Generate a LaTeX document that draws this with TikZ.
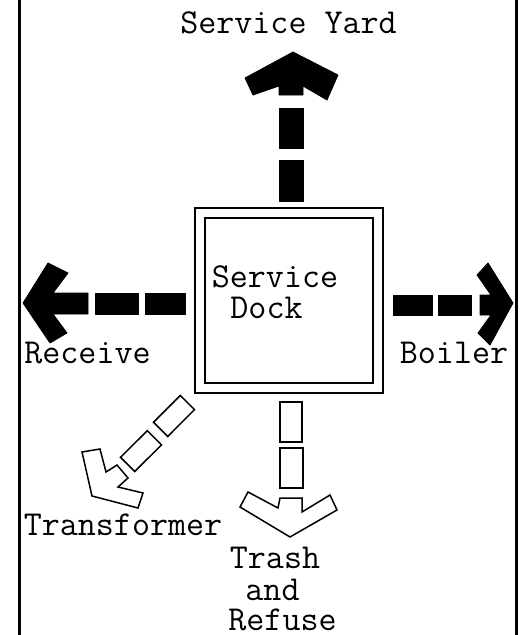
\documentclass[tikz,border=0pt]{standalone}
\usepackage{fontspec}
\begin{document}
\begin{tikzpicture}[x=1pt,y=-1pt,
  lbl/.style={font=\ttfamily\fontsize{35}{40}\selectfont, inner sep=0pt, anchor=base},
  solid/.style={fill=black, draw=black, line width=0.8pt, line join=round},
  openarr/.style={draw=black, line width=1.5pt, line join=miter, fill=white},
  frameline/.style={line width=3pt},
  dockbox/.style={draw, line width=2pt, inner sep=0pt}]
\useasboundingbox (0,0) rectangle (524,635);
% frame
\coordinate (fl1) at (19,-5); \coordinate (fl2) at (19,640);
\coordinate (fr1) at (516,-5); \coordinate (fr2) at (516,640);
\draw[frameline] (fl1) -- (fl2);
\draw[frameline] (fr1) -- (fr2);
% dock
\node[dockbox, minimum width=188pt, minimum height=185pt] (dock) at (289,300.5) {};
\node[dockbox, line width=1.5pt, minimum width=168pt, minimum height=165pt] (dockin) at (dock.center) {};
\node[lbl] (t1) at (275,287) {Service};
\node[lbl] (t2) at (266.5,318) {Dock};
% up arrow
\draw[solid] (293,52) -- (338,75) -- (327,100) -- (303,86) -- (303,95) -- (279,95) -- (279,86) -- (253,95) -- (245,78) -- cycle;
\draw[solid] (279,108) rectangle (303,148);
\draw[solid] (279,160) rectangle (303,201);
\node[lbl] (yard) at (288.5,33) {Service Yard};
% left arrow
\draw[solid] (23,303) -- (48,263) -- (68,273) -- (53,293) -- (88,293) -- (88,314) -- (53,314) -- (67,333) -- (50,343) -- cycle;
\draw[solid] (95,293) rectangle (138,314);
\draw[solid] (145,293) rectangle (185,314);
\node[lbl] (recv) at (87.5,363) {Receive};
% right arrow
\draw[solid] (393,295) rectangle (432,315);
\draw[solid] (438,295) rectangle (471,315);
\draw[solid] (480,295) -- (491,295) -- (477,275) -- (488,263) -- (513,303) -- (490,345) -- (478,333) -- (491,315) -- (480,315) -- cycle;
\node[lbl] (boil) at (454,363) {Boiler};
% transformer arrow
\draw[openarr] (180.3,395.5) -- (194.5,409.6) -- (167.7,436.5) -- (153.5,422.3) -- cycle;
\draw[openarr] (147.3,430.7) -- (161.5,444.9) -- (134.7,471.5) -- (120.5,457.3) -- cycle;
\draw[openarr] (82,452) -- (100,449) -- (106,472) -- (117,465) -- (128,478) -- (118,487) -- (143,493) -- (138,508) -- (92,496) -- cycle;
\node[lbl] (trans) at (123,535) {Transformer};
% trash arrow
\draw[openarr] (280,402) rectangle (302,442);
\draw[openarr] (280,448) rectangle (303,488);
\draw[openarr] (248,492) -- (278,508) -- (280,498) -- (302,498) -- (302,512) -- (330,495) -- (337,510) -- (290,537) -- (240,507) -- cycle;
\node[lbl] (tr1) at (275,568) {Trash};
\node[lbl] (tr2) at (272.5,600) {and};
\node[lbl] (tr3) at (282.5,630) {Refuse};
\end{tikzpicture}
\end{document}
